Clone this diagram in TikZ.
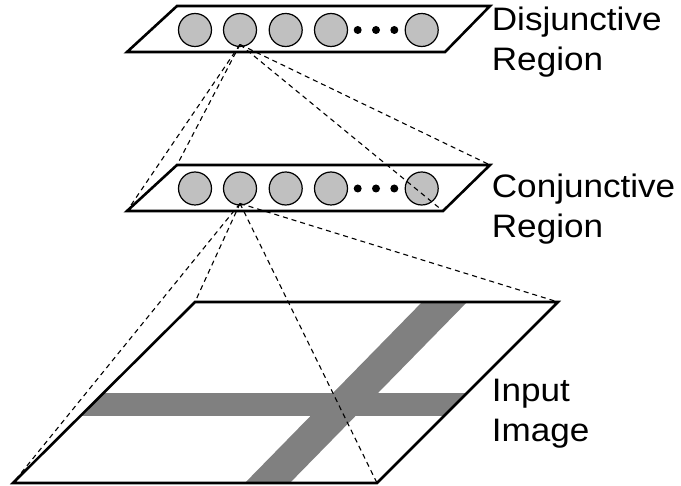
\documentclass[tikz,border=0pt]{standalone}
\usepackage{fontspec}
\setmainfont{Liberation Sans}
\usepackage{graphicx}
\definecolor{cirgray}{RGB}{192,192,192}
\definecolor{bandgray}{RGB}{128,128,128}
\newcommand{\widetxt}[1]{\scalebox{1.08}[1]{#1}}
\begin{document}
\begin{tikzpicture}[x=1pt,y=-1pt,
  layer/.style={draw=black,line width=2.6pt,line join=miter},
  unit/.style={circle,draw=black,line width=1.2pt,fill=cirgray,minimum size=33pt,inner sep=0pt},
  dotnode/.style={circle,fill=black,minimum size=8pt,inner sep=0pt},
  link/.style={line width=1.1pt,dash pattern=on 5pt off 4pt},
  lbl/.style={font=\fontsize{32.5}{40}\selectfont,align=left,anchor=base west,inner sep=0pt}]
\useasboundingbox (0,0) rectangle (681,486);

% input image
\coordinate (iBL) at (13,483);
\coordinate (iBR) at (377,483);
\coordinate (iTR) at (558,302);
\coordinate (iTL) at (195,302);
\fill[white] (iBL) -- (iBR) -- (iTR) -- (iTL) -- cycle;
\begin{scope}
  \clip (iBL) -- (iBR) -- (iTR) -- (iTL) -- cycle;
  \fill[bandgray] (0,393.5) rectangle (681,415.7);
  \fill[bandgray] (240,488) -- (285,488) -- (472,297) -- (427,297) -- cycle;
\end{scope}
\draw[layer] (iBL) -- (iBR) -- (iTR) -- (iTL) -- cycle;

% conjunctive layer
\coordinate (mBL) at (127,211);
\coordinate (mBR) at (443,211);
\coordinate (mTR) at (490,165);
\coordinate (mTL) at (177,165);
\draw[layer,fill=white] (mBL) -- (mBR) -- (mTR) -- (mTL) -- cycle;
\node[unit] (m1) at (195,188.5) {};
\node[unit] (m2) at (240,188.5) {};
\node[unit] (m3) at (285.7,188.5) {};
\node[unit] (m4) at (331,188.5) {};
\node[unit] (m5) at (421.7,188.5) {};
\node[dotnode] (md1) at (357.7,188.5) {};
\node[dotnode] (md2) at (376,188.5) {};
\node[dotnode] (md3) at (394.3,188.5) {};

% disjunctive layer
\coordinate (tBL) at (127,52);
\coordinate (tBR) at (445,52);
\coordinate (tTR) at (490,6);
\coordinate (tTL) at (177,6);
\draw[layer,fill=white] (tBL) -- (tBR) -- (tTR) -- (tTL) -- cycle;
\node[unit] (t1) at (195,30) {};
\node[unit] (t2) at (240,30) {};
\node[unit] (t3) at (285.7,30) {};
\node[unit] (t4) at (331,30) {};
\node[unit] (t5) at (421.7,30) {};
\node[dotnode] (td1) at (357.7,30) {};
\node[dotnode] (td2) at (376,30) {};
\node[dotnode] (td3) at (394.3,30) {};

% receptive field lines
\coordinate (tA) at (240,44.5);
\coordinate (mA) at (240,203.5);
\draw[link] (tA) -- (mBL);
\draw[link] (tA) -- (mTL);
\draw[link] (tA) -- (mBR);
\draw[link] (tA) -- (mTR);
\draw[link] (mA) -- (iBL);
\draw[link] (mA) -- (iTL);
\draw[link] (mA) -- (iBR);
\draw[link] (mA) -- (iTR);

% labels (base anchor = baseline of last line)
\node[lbl] (ldis) at (491.7,70.7) {\widetxt{Disjunctive}\\\widetxt{Region}};
\node[lbl] (lcon) at (491.7,237.5) {\widetxt{Conjunctive}\\\widetxt{Region}};
\node[lbl] (linp) at (491.7,441.7) {\widetxt{Input}\\\widetxt{Image}};
\end{tikzpicture}
\end{document}
